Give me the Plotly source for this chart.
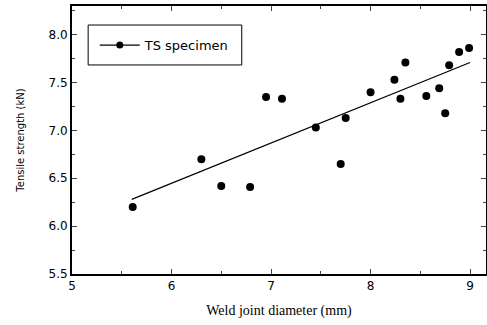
import plotly.graph_objects as go

diameter = [5.61, 6.30, 6.50, 6.79, 6.95, 7.11, 7.45, 7.70, 7.75, 8.00, 8.24, 8.30, 8.35, 8.56, 8.69, 8.75, 8.79, 8.89, 8.99]
strength = [6.20, 6.70, 6.42, 6.41, 7.35, 7.33, 7.03, 6.65, 7.13, 7.40, 7.53, 7.33, 7.71, 7.36, 7.44, 7.18, 7.68, 7.82, 7.86]
fit_x = [5.6, 9.0]
fit_y = [6.28, 7.71]
x_ticks = [5, 6, 7, 8, 9]
y_ticks = [5.5, 6.0, 6.5, 7.0, 7.5, 8.0]

fig = go.Figure()
fig.add_trace(go.Scatter(x=diameter, y=strength, mode="markers", name="TS specimen",
                         marker=dict(color="black", size=8), showlegend=False))
fig.add_trace(go.Scatter(x=fit_x, y=fit_y, mode="lines", line=dict(color="black", width=1.2),
                         showlegend=False))
# legend entry
fig.add_trace(go.Scatter(x=[None], y=[None], mode="lines+markers", name="TS specimen",
                         line=dict(color="black", width=1.2), marker=dict(color="black", size=7)))

fig.add_shape(type="rect", xref="paper", yref="paper", x0=0.039, x1=0.41, y0=0.78, y1=0.929,
              line=dict(color="black", width=1), fillcolor="rgba(0,0,0,0)")

fig.update_layout(
    width=487, height=325,
    margin=dict(l=72, r=1, t=6, b=51),
    plot_bgcolor="white", paper_bgcolor="white",
    font=dict(family="DejaVu Sans", size=12, color="black"),
    legend=dict(x=0.055, y=0.854, xanchor="left", yanchor="middle",
                borderwidth=0, bgcolor="rgba(0,0,0,0)", itemwidth=40,
                font=dict(size=13, family="DejaVu Sans")),
    xaxis=dict(range=[5, 9.16], tickvals=x_ticks, ticktext=[str(v) for v in x_ticks],
               ticks="inside", ticklen=5, mirror="allticks", showline=True, linecolor="black",
               linewidth=2, showgrid=False, zeroline=False, automargin=False,
               minor=dict(dtick=0.5, ticks="inside", ticklen=3, showgrid=False),
               title=dict(text="Weld joint diameter (mm)", font=dict(family="Liberation Serif", size=14), standoff=13),
               tickfont=dict(size=12)),
    yaxis=dict(range=[5.5, 8.3], tickvals=y_ticks, ticktext=["%.1f" % v for v in y_ticks],
               ticks="inside", ticklen=5, mirror="allticks", showline=True, linecolor="black",
               linewidth=2, showgrid=False, zeroline=False, automargin=False,
               minor=dict(dtick=0.25, ticks="inside", ticklen=3, showgrid=False),
               title=dict(text="Tensile strength (kN)", font=dict(size=10), standoff=22),
               tickfont=dict(size=12)),
)
fig.write_html("out.html", config={"displayModeBar": False},
               post_script="document.body.style.margin='0';")
